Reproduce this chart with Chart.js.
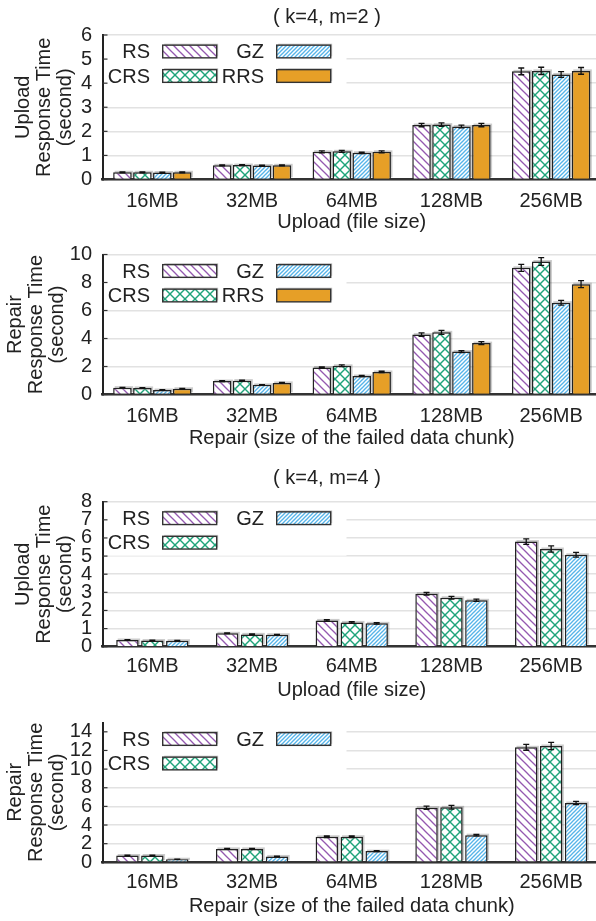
<!DOCTYPE html>
<html>
<head>
<meta charset="utf-8">
<script src="https://cdn.jsdelivr.net/npm/chart.js@4.4.1/dist/chart.umd.min.js"></script>
<style>
  html, body { margin: 0; padding: 0; background: #fff; width: 596px; height: 921px; overflow: hidden; }
  canvas { position: absolute; left: 0; }
</style>
</head>
<body>
<canvas id="c1" width="601" height="234" style="top:0px"></canvas>
<canvas id="c2" width="601" height="216" style="top:234px"></canvas>
<canvas id="c3" width="601" height="252" style="top:450px"></canvas>
<canvas id="c4" width="601" height="219" style="top:702px"></canvas>
<script>
// ---- data ----
const sizes = ['16MB', '32MB', '64MB', '128MB', '256MB'];

// (k=4, m=2) upload response time, seconds
const up42RS  = [0.30, 0.59, 1.15, 2.26, 4.49];
const up42CRS = [0.30, 0.60, 1.17, 2.28, 4.51];
const up42GZ  = [0.29, 0.58, 1.11, 2.20, 4.36];
const up42RRS = [0.30, 0.59, 1.15, 2.26, 4.51];
const up42RSErr  = [0.02, 0.02, 0.04, 0.07, 0.14];
const up42CRSErr = [0.02, 0.02, 0.04, 0.07, 0.15];
const up42GZErr  = [0.02, 0.02, 0.03, 0.06, 0.12];
const up42RRSErr = [0.02, 0.02, 0.04, 0.07, 0.14];

// (k=4, m=2) repair response time, seconds
const rp42RS  = [0.49, 0.96, 1.93, 4.28, 9.05];
const rp42CRS = [0.47, 0.99, 2.05, 4.44, 9.50];
const rp42GZ  = [0.32, 0.69, 1.32, 3.07, 6.56];
const rp42RRS = [0.41, 0.83, 1.61, 3.67, 7.88];
const rp42RSErr  = [0.02, 0.03, 0.05, 0.12, 0.25];
const rp42CRSErr = [0.02, 0.03, 0.06, 0.14, 0.28];
const rp42GZErr  = [0.02, 0.02, 0.04, 0.07, 0.17];
const rp42RRSErr = [0.02, 0.03, 0.05, 0.11, 0.25];

// (k=4, m=4) upload response time, seconds
const up44RS  = [0.37, 0.74, 1.45, 2.92, 5.80];
const up44CRS = [0.34, 0.68, 1.34, 2.70, 5.39];
const up44GZ  = [0.33, 0.66, 1.29, 2.56, 5.07];
const up44RSErr  = [0.02, 0.02, 0.04, 0.07, 0.15];
const up44CRSErr = [0.02, 0.02, 0.04, 0.08, 0.17];
const up44GZErr  = [0.02, 0.02, 0.04, 0.06, 0.13];

// (k=4, m=4) repair response time, seconds
const rp44RS  = [0.73, 1.44, 2.74, 5.86, 12.34];
const rp44CRS = [0.73, 1.44, 2.74, 5.90, 12.48];
const rp44GZ  = [0.33, 0.63, 1.20, 2.91, 6.36];
const rp44RSErr  = [0.03, 0.04, 0.08, 0.17, 0.32];
const rp44CRSErr = [0.03, 0.04, 0.08, 0.20, 0.38];
const rp44GZErr  = [0.02, 0.03, 0.04, 0.08, 0.17];

// axis ranges and tick steps
const yMax42Up = 6,  yStep42Up = 1;
const yMax42Rp = 10, yStep42Rp = 2;
const yMax44Up = 8,  yStep44Up = 1;
const yMax44Rp = 15, yStep44Rp = 2;

// ---- styling ----
const FONT = "'Liberation Sans', Arial, Helvetica, sans-serif";
const INK = '#222';
Chart.defaults.font.family = FONT;
Chart.defaults.color = INK;

function hatch(color, size, lw, dirs) {
  const c = document.createElement('canvas');
  c.width = c.height = size;
  const g = c.getContext('2d');
  g.fillStyle = '#fff';
  g.fillRect(0, 0, size, size);
  g.strokeStyle = color;
  g.lineWidth = lw;
  dirs.forEach(d => {
    for (const o of [-size, 0, size]) {
      g.beginPath();
      if (d === '\\') { g.moveTo(o - 1, -1); g.lineTo(o + size + 1, size + 1); }
      else { g.moveTo(o - 1, size + 1); g.lineTo(o + size + 1, -1); }
      g.stroke();
    }
  });
  return g.createPattern(c, 'repeat');
}

const fillRS  = hatch('#9459b0', 8, 1.3, ['\\']);
const fillCRS = hatch('#1fa37a', 10, 1.4, ['\\', '/']);
const fillGZ  = hatch('#56b4e9', 4, 1.3, ['/']);
const fillRRS = '#e69f27';

// key, shadows, error bars, inner ticks, panel heading
const decor = {
  id: 'decor',
  beforeDatasetsDraw(chart, args, o) {
    const ctx = chart.ctx, a = chart.chartArea;
    // soft bar shadows
    ctx.save();
    ctx.fillStyle = 'rgba(0,0,0,0.2)';
    chart.data.datasets.forEach((ds, di) => {
      chart.getDatasetMeta(di).data.forEach(b => {
        ctx.fillRect(b.x - b.width / 2 + 1.5, b.y - 1.5, b.width, b.base - b.y);
      });
    });
    // key
    ctx.fillStyle = '#fff';
    ctx.fillRect(a.left + 1.5, a.top + 2, 345 - a.left, 52);
    ctx.font = '20px ' + FONT;
    ctx.textAlign = 'right';
    ctx.textBaseline = 'middle';
    const cols = [{tx: 150, sx: 162.7}, {tx: 264, sx: 276.7}];
    const rows = [a.top + 16.5, a.top + 41];
    o.keyOrder.forEach((di, k) => {
      const ds = chart.data.datasets[di];
      const col = cols[Math.floor(k / 2)], ry = rows[k % 2];
      ctx.fillStyle = INK;
      ctx.fillText(ds.label, col.tx, ry + 1);
      const w = 54, h = 12.7, x = col.sx, y = ry - h / 2;
      ctx.fillStyle = 'rgba(0,0,0,0.2)';
      ctx.fillRect(x + 1.5, y - 1.5, w, h);
      ctx.fillStyle = ds.backgroundColor;
      ctx.fillRect(x, y, w, h);
      ctx.strokeStyle = '#333';
      ctx.lineWidth = 1.4;
      ctx.strokeRect(x, y, w, h);
    });
    ctx.restore();
  },
  afterDatasetsDraw(chart, args, o) {
    const ctx = chart.ctx, ys = chart.scales.y, a = chart.chartArea;
    ctx.save();
    // error bars
    ctx.strokeStyle = '#111';
    ctx.lineWidth = 1.3;
    chart.data.datasets.forEach((ds, di) => {
      const errs = o.errors[di];
      chart.getDatasetMeta(di).data.forEach((b, i) => {
        const v = ds.data[i], e = errs[i];
        const yt = ys.getPixelForValue(v + e), yb = ys.getPixelForValue(v - e);
        ctx.beginPath();
        ctx.moveTo(b.x, yt); ctx.lineTo(b.x, yb);
        ctx.moveTo(b.x - 3, yt); ctx.lineTo(b.x + 3, yt);
        ctx.moveTo(b.x - 3, yb); ctx.lineTo(b.x + 3, yb);
        ctx.stroke();
      });
    });
    // short inward ticks on the value axis
    ctx.strokeStyle = '#333';
    ctx.lineWidth = 1.2;
    ys.ticks.forEach(t => {
      const p = ys.getPixelForValue(t.value);
      ctx.beginPath();
      ctx.moveTo(a.left, p); ctx.lineTo(a.left + 5, p);
      ctx.stroke();
    });
    // panel heading
    if (o.heading) {
      ctx.fillStyle = INK;
      ctx.font = '20px ' + FONT;
      ctx.textAlign = 'center';
      ctx.textBaseline = 'middle';
      ctx.fillText(o.heading, o.headingX, o.headingY);
    }
    ctx.restore();
  }
};

function series(label, data, fill) {
  return { label, data, backgroundColor: fill, borderColor: '#222', borderWidth: 1.5 };
}

function makeChart(id, p) {
  return new Chart(document.getElementById(id), {
    type: 'bar',
    data: { labels: sizes, datasets: p.datasets },
    options: {
      responsive: false,
      animation: false,
      events: [],
      categoryPercentage: p.catPct,
      barPercentage: p.barPct,
      layout: { autoPadding: false, padding: { top: p.padTop, left: 0, right: 0, bottom: 0 } },
      plugins: {
        legend: { display: false },
        tooltip: { enabled: false },
        decor: { errors: p.errors, keyOrder: p.keyOrder, heading: p.heading, headingX: 327, headingY: p.headingY }
      },
      scales: {
        x: {
          z: 1,
          offset: true,
          grid: { display: false, drawTicks: false },
          border: { display: true, color: '#333', width: 2.5 },
          ticks: { padding: p.xTickPad, color: INK, maxRotation: 0, autoSkip: false, font: { size: 20, lineHeight: 1.2 } },
          title: { display: true, text: p.xTitle, color: INK, font: { size: 20, lineHeight: 1.2 }, padding: { top: 0, bottom: p.xTitlePadB } },
          afterFit: s => { s.height = p.xH; }
        },
        y: {
          min: 0,
          max: p.yMax,
          grid: { color: '#e2e2e2', lineWidth: 1.5, drawTicks: false },
          border: { display: true, color: '#222', width: 2 },
          ticks: { stepSize: p.yStep, autoSkip: false, includeBounds: false, padding: 10.5, color: INK, font: { size: 20, lineHeight: 1.0 } },
          title: { display: true, text: p.yTitle, color: INK, font: { size: 20, lineHeight: 1.05 }, padding: { top: p.yTitlePad, bottom: 0 } },
          afterFit: s => { s.width = 102.5; }
        }
      }
    },
    plugins: [decor]
  });
}

makeChart('c1', {
  datasets: [series('RS', up42RS, fillRS), series('CRS', up42CRS, fillCRS), series('GZ', up42GZ, fillGZ), series('RRS', up42RRS, fillRRS)],
  errors: [up42RSErr, up42CRSErr, up42GZErr, up42RRSErr],
  keyOrder: [0, 1, 2, 3],
  catPct: 0.8, barPct: 0.93,
  yMax: yMax42Up, yStep: yStep42Up,
  yTitle: ['Upload', 'Response Time', '(second)'], yTitlePad: 12.5,
  xTitle: 'Upload (file size)', xTitlePadB: 0,
  padTop: 35, xH: 54.5, xTickPad: 10,
  heading: '( k=4, m=2 )', headingY: 17
});

makeChart('c2', {
  datasets: [series('RS', rp42RS, fillRS), series('CRS', rp42CRS, fillCRS), series('GZ', rp42GZ, fillGZ), series('RRS', rp42RRS, fillRRS)],
  errors: [rp42RSErr, rp42CRSErr, rp42GZErr, rp42RRSErr],
  keyOrder: [0, 1, 2, 3],
  catPct: 0.8, barPct: 0.93,
  yMax: yMax42Rp, yStep: yStep42Rp,
  yTitle: ['Repair', 'Response Time', '(second)'], yTitlePad: 5,
  xTitle: 'Repair (size of the failed data chunk)', xTitlePadB: 0,
  padTop: 11.7, xH: 55.5, xTickPad: 10
});

makeChart('c3', {
  datasets: [series('RS', up44RS, fillRS), series('CRS', up44CRS, fillCRS), series('GZ', up44GZ, fillGZ)],
  errors: [up44RSErr, up44CRSErr, up44GZErr],
  keyOrder: [0, 1, 2],
  catPct: 0.75, barPct: 0.9,
  yMax: yMax44Up, yStep: yStep44Up,
  yTitle: ['Upload', 'Response Time', '(second)'], yTitlePad: 12.5,
  xTitle: 'Upload (file size)', xTitlePadB: 0,
  padTop: 51.7, xH: 55.3, xTickPad: 8,
  heading: '( k=4, m=4 )', headingY: 28.3
});

makeChart('c4', {
  datasets: [series('RS', rp44RS, fillRS), series('CRS', rp44CRS, fillCRS), series('GZ', rp44GZ, fillGZ)],
  errors: [rp44RSErr, rp44CRSErr, rp44GZErr],
  keyOrder: [0, 1, 2],
  catPct: 0.75, barPct: 0.9,
  yMax: yMax44Rp, yStep: yStep44Rp,
  yTitle: ['Repair', 'Response Time', '(second)'], yTitlePad: 5,
  xTitle: 'Repair (size of the failed data chunk)', xTitlePadB: 2.3,
  padTop: 9.7, xH: 58.7, xTickPad: 8.5
});
</script>
</body>
</html>
